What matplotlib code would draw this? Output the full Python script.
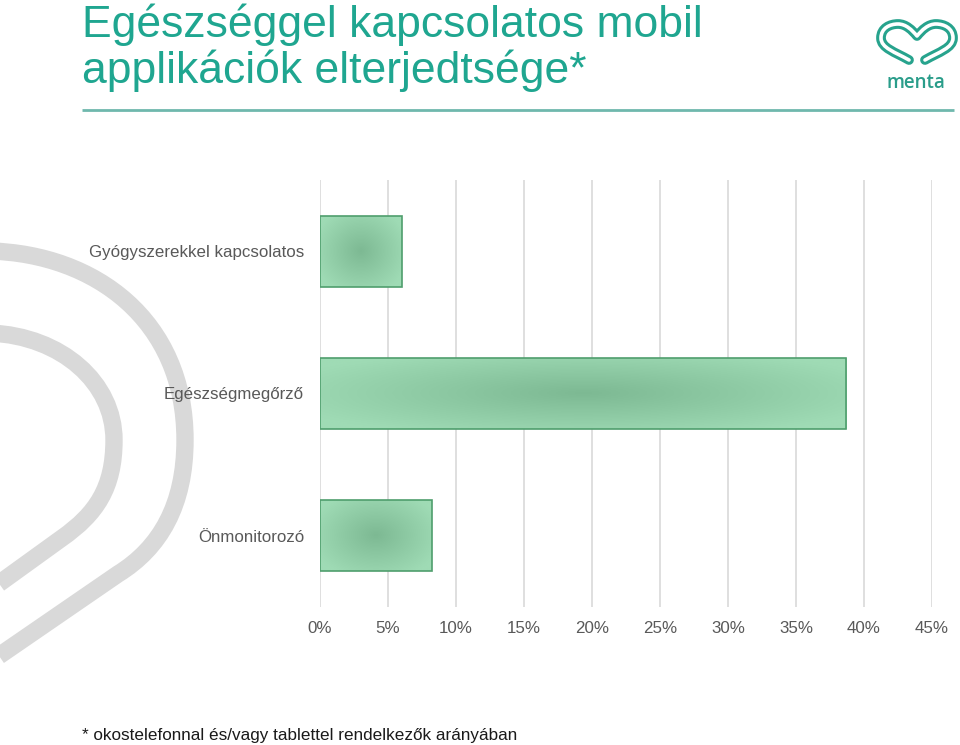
import numpy as np
import matplotlib
matplotlib.use("Agg")
import matplotlib.pyplot as plt
from matplotlib.path import Path
from matplotlib.patches import PathPatch
from matplotlib.colors import LinearSegmentedColormap

plt.rcParams['font.family'] = ['Liberation Sans', 'DejaVu Sans']

categories = ["Gyógyszerekkel kapcsolatos", "Egészségmegőrző", "Önmonitorozó"]
values = [6.0, 38.7, 8.2]
xticks = [0, 5, 10, 15, 20, 25, 30, 35, 40, 45]
xtick_labels = [f"{t}%" for t in xticks]
title_lines = ["Egészséggel kapcsolatos mobil", "applikációk elterjedtsége*"]
footnote = "* okostelefonnal és/vagy tablettel rendelkezők arányában"

W, H = 960, 745
fig = plt.figure(figsize=(W / 100, H / 100), dpi=100)
fig.patch.set_facecolor("white")

# background decoration axes in pixel coordinates
bg = fig.add_axes([0, 0, 1, 1])
bg.set_xlim(0, W)
bg.set_ylim(H, 0)
bg.axis("off")
bg.set_zorder(0)

def curve(verts, codes, lw, color, cap="butt"):
    p = Path(verts, codes)
    bg.add_patch(PathPatch(p, facecolor="none", edgecolor=color, lw=lw, capstyle=cap, joinstyle="round"))

C4 = Path.CURVE4
outer = [(-10, 251), (95, 254), (185, 320), (185, 440), (185, 505), (160, 548), (118, 574), (-10, 662)]
curve(outer, [Path.MOVETO, C4, C4, C4, C4, C4, C4, Path.LINETO], 12.5, "#d9d9d9")
inner = [(-10, 333), (62, 336), (114, 383), (114, 440), (114, 488), (96, 514), (62, 538), (-10, 590)]
curve(inner, [Path.MOVETO, C4, C4, C4, C4, C4, C4, Path.LINETO], 12.5, "#d9d9d9")

# title
teal = "#1fa690"
bg.text(82, 37, title_lines[0], fontsize=32, color=teal, va="baseline", ha="left")
bg.text(82, 83, title_lines[1], fontsize=32, color=teal, va="baseline", ha="left")
bg.plot([82, 954], [110, 110], color="#6fb8ad", lw=2, solid_capstyle="butt")

# logo (hollow heart outline)
heart = [(909, 60), (895, 52), (881, 48), (881, 38),
         (881, 28), (890, 24), (898, 24),
         (906, 24), (912, 30), (917, 36),
         (922, 30), (928, 24), (936, 24),
         (944, 24), (953, 28), (953, 38),
         (953, 48), (939, 52), (925, 60)]
lc = [Path.MOVETO] + [C4] * 18
curve(heart, lc, 7.0, "#27a38d", cap="round")
curve(heart, lc, 2.6, "white", cap="round")
bg.text(916, 88, "menta", fontsize=13.5, color="#2a9d8a", ha="center", va="baseline",
        family=["Open Sans", "DejaVu Sans"], fontweight="semibold")

# footnote
bg.text(82, 740, footnote, fontsize=12.3, color="#1a1a1a", ha="left", va="baseline")

# chart
ax = fig.add_axes([320 / W, 1 - 607 / H, (932 - 320) / W, (607 - 180) / H])
ax.set_zorder(1)
ax.patch.set_alpha(0)
y = np.arange(len(categories))
bars = ax.barh(y, values, height=0.5, color="none", edgecolor="#4f9e6d", lw=1.2, zorder=3)
ax.set_xticks(xticks)
ax.set_xticklabels(xtick_labels)
ax.set_yticks(y)
ax.set_yticklabels(categories)
ax.tick_params(axis="both", length=0, labelsize=12.2, labelcolor="#595959")
ax.tick_params(axis="y", pad=11.5)
ax.tick_params(axis="x", pad=10)
for s in ax.spines.values():
    s.set_visible(False)
ax.grid(axis="x", color="#d9d9d9", lw=1.2, zorder=0)
ax.set_axisbelow(True)

cmap = LinearSegmentedColormap.from_list("g", ["#7db993", "#9fdbb5"])
for b in bars:
    x0, y0 = b.get_x(), b.get_y()
    w, h = b.get_width(), b.get_height()
    nx, ny = 300, 60
    gx, gy = np.meshgrid(np.linspace(-1, 1, nx), np.linspace(-1, 1, ny))
    r = np.sqrt(np.clip((gx * 0.85) ** 2 + gy ** 2 * 0.6, 0, 1))
    im = ax.imshow(r, extent=[x0, x0 + w, y0 + h, y0], cmap=cmap, vmin=0, vmax=1,
                   aspect="auto", zorder=2, interpolation="bilinear")
    im.set_clip_path(b)
ax.set_xlim(0, 45)
ax.set_ylim(len(categories) - 0.5, -0.5)

fig.savefig("out.png", dpi=100, facecolor="white")
